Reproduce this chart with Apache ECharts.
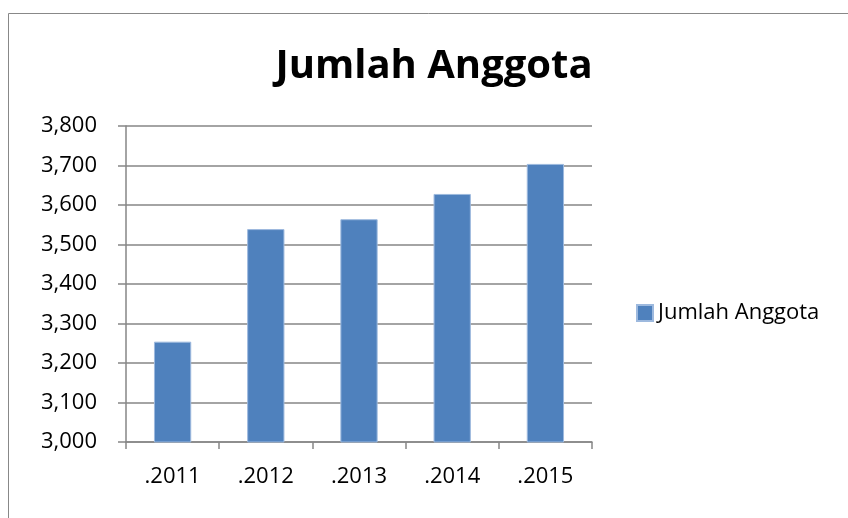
<!DOCTYPE html>
<html>
<head>
<meta charset="utf-8">
<script src="https://cdn.jsdelivr.net/npm/echarts@6/dist/echarts.min.js"></script>
<style>
html,body{margin:0;padding:0;background:#fff;}
#chart{width:848px;height:518px;}
</style>
</head>
<body>
<div id="chart"></div>
<script>
const titleText = 'Jumlah Anggota';
const seriesName = 'Jumlah Anggota';
const categories = ['.2011', '.2012', '.2013', '.2014', '.2015'];
const values = [3254, 3539, 3564, 3628, 3704];
const yMin = 3000, yMax = 3800, yStep = 100;

const chart = echarts.init(document.getElementById('chart'), null, {renderer: 'canvas'});
const font = "'Open Sans', sans-serif";
chart.setOption({
  animation: false,
  backgroundColor: '#ffffff',
  graphic: [{
    type: 'rect',
    shape: {x: 8.5, y: 13.5, width: 900, height: 600},
    style: {fill: 'none', stroke: '#888888', lineWidth: 1},
    silent: true, z: -1
  }],
  title: {
    text: titleText,
    left: 434, top: 47, textAlign: 'center',
    padding: 0,
    textStyle: {fontFamily: font, fontWeight: 'bold', fontSize: 40, color: '#000'}
  },
  legend: {
    left: 636, top: 302,
    padding: 0,
    itemWidth: 16, itemHeight: 16, itemGap: 5,
    icon: 'rect',
    data: [seriesName],
    textStyle: {fontFamily: font, fontSize: 22, color: '#000', padding: [0,0,0,0]}
  },
  grid: {left: 126, right: 256, top: 126, bottom: 76, containLabel: false},
  xAxis: {
    type: 'category',
    data: categories,
    axisLine: {lineStyle: {color: '#868686', width: 1.5}},
    axisTick: {show: true, length: 7, lineStyle: {color: '#868686', width: 1.5}},
    axisLabel: {fontFamily: font, fontSize: 22, color: '#000', margin: 24}
  },
  yAxis: {
    type: 'value',
    min: yMin, max: yMax, interval: yStep,
    axisLine: {show: true, lineStyle: {color: '#868686', width: 1.5}},
    axisTick: {show: true, length: 8, lineStyle: {color: '#868686', width: 1.5}},
    splitLine: {lineStyle: {color: '#868686', width: 1.5}},
    axisLabel: {
      fontFamily: font, fontSize: 22, color: '#000', margin: 29,
      formatter: v => v.toLocaleString('en-US')
    }
  },
  series: [{
    name: seriesName,
    type: 'bar',
    data: values,
    barWidth: '40%',
    itemStyle: {color: '#4F81BD', borderColor: '#9DB9DE', borderWidth: 1}
  }]
});
</script>
</body>
</html>
